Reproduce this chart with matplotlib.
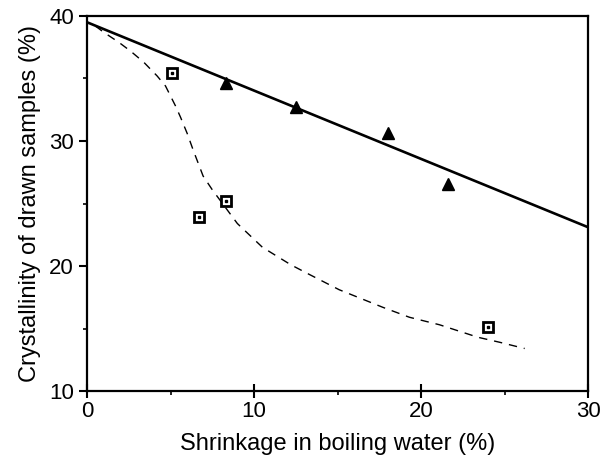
import matplotlib
matplotlib.use("Agg")
from matplotlib import pyplot as plt

plt.rcParams['font.family'] = ['Liberation Sans', 'DejaVu Sans']

# triangles (solid line fit)
tri_x = [8.3, 12.5, 18.0, 21.6]
tri_y = [34.6, 32.7, 30.6, 26.6]

# squares (dashed curve)
sq_x = [5.1, 6.7, 8.3, 24.0]
sq_y = [35.4, 23.9, 25.2, 15.1]

# solid line ends
line_x = [0, 30]
line_y = [39.5, 23.1]

# dashed curve
curve_x = [0.5, 1.0, 1.9, 2.6, 3.4, 4.2, 4.7, 5.0, 5.3, 5.6, 6.0, 6.35, 6.95,
           7.5, 8.0, 9.0, 10.5, 12.2, 13.2, 15.1, 17.7, 19.3, 21.1, 23.4, 24.7, 26.2]
curve_y = [39.2, 38.7, 37.9, 37.2, 36.3, 35.2, 34.4, 33.6, 32.8, 31.9, 30.6, 29.3, 27.2,
           26.1, 25.2, 23.4, 21.5, 20.1, 19.4, 18.1, 16.7, 15.9, 15.3, 14.3, 13.9, 13.4]

fig = plt.figure(figsize=(6.02, 4.57), dpi=100)
ax = fig.add_axes([0.1445, 0.1444, 0.8325, 0.8206])

ax.plot(line_x, line_y, color='black', lw=1.9)
ax.plot(curve_x, curve_y, color='black', lw=1.0, ls=(0, (6, 5)))
ax.plot(tri_x, tri_y, ls='none', marker='^', ms=8, color='black')
ax.plot(sq_x, sq_y, ls='none', marker='s', ms=7, mfc='white', mec='black', mew=2)
ax.plot(sq_x, sq_y, ls='none', marker='s', ms=1.5, color='black')

ax.set_xlim(0, 30)
ax.set_ylim(10, 40)
ax.set_xticks([0, 10, 20, 30])
ax.set_yticks([10, 20, 30, 40])
ax.set_xticks([5, 15, 25], minor=True)
ax.set_yticks([15, 25, 35], minor=True)
ax.tick_params(which='major', direction='out', length=6, width=1.5, labelsize=16)
ax.tick_params(axis='x', which='major', direction='inout', length=10, pad=2)
ax.tick_params(which='minor', direction='out', length=3, width=1.2)
for s in ax.spines.values():
    s.set_linewidth(1.6)

ax.set_xlabel("Shrinkage in boiling water (%)", fontsize=17, labelpad=8)
ax.set_ylabel("Crystallinity of drawn samples (%)", fontsize=17, labelpad=6)

fig.savefig("out.png", dpi=100)
